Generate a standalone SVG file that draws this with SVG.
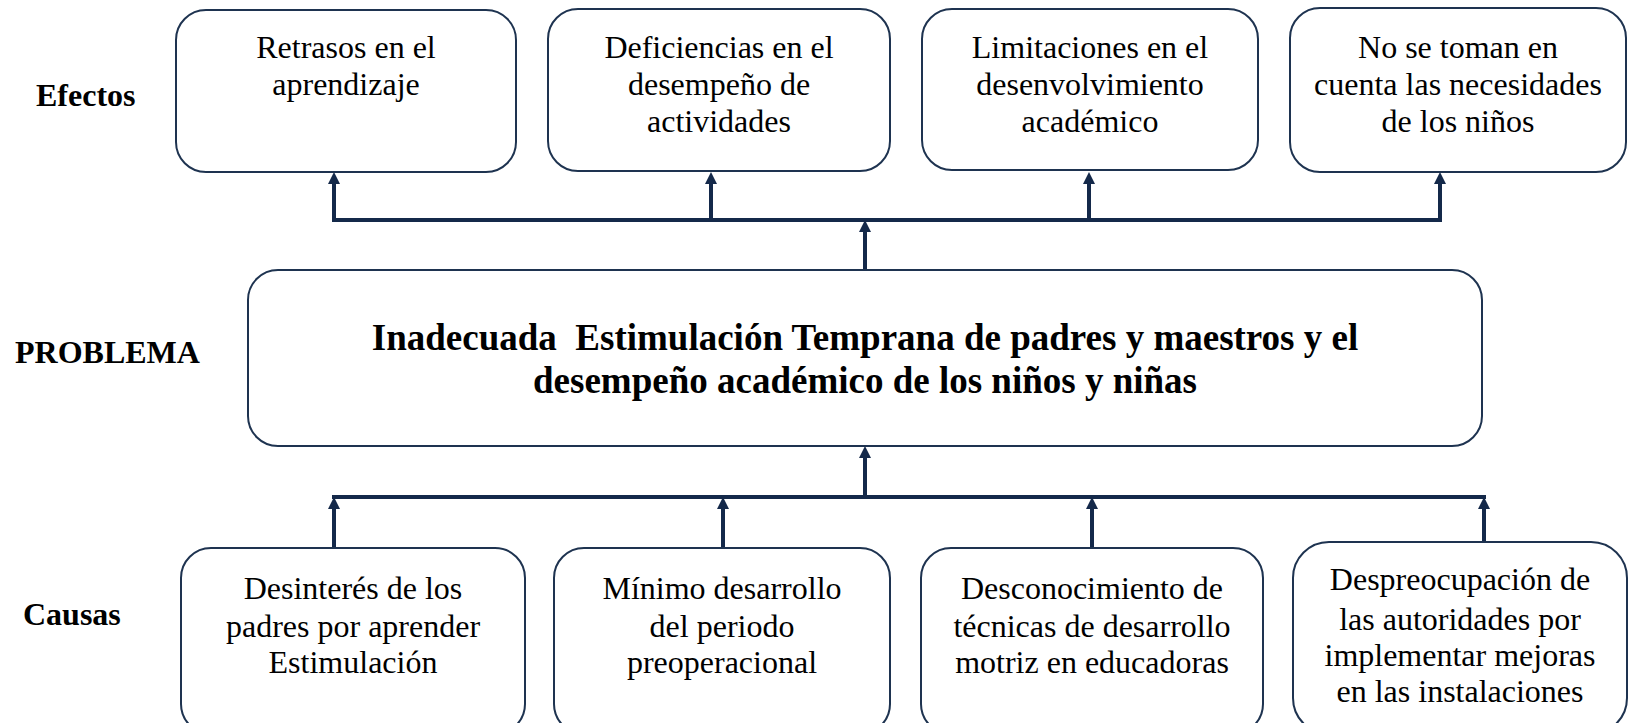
<svg xmlns="http://www.w3.org/2000/svg" width="1628" height="723" viewBox="0 0 1628 723">
<style>
.box{fill:#ffffff;stroke:#1e3350;stroke-width:2}
.t{font-family:"Liberation Serif","Tinos","Times New Roman","Nimbus Roman","DejaVu Serif",serif;font-weight:normal;font-style:normal;font-size:32px;fill:#000;text-anchor:middle}
.lbl{font-family:"Liberation Serif","Tinos","Times New Roman","Nimbus Roman","DejaVu Serif",serif;font-size:32px;font-weight:bold;fill:#000}
.main{font-family:"Liberation Serif","Tinos","Times New Roman","Nimbus Roman","DejaVu Serif",serif;font-size:37px;font-weight:bold;fill:#000;text-anchor:middle}
.c{stroke:#14294a;stroke-width:4;fill:none}
</style>
<defs>
<marker id="ah" viewBox="0 0 12 12" refX="2" refY="6" markerWidth="12" markerHeight="12" orient="auto" markerUnits="userSpaceOnUse">
<path d="M0,0 L12,6 L0,12 z" fill="#14294a"/>
</marker>
</defs>
<rect width="1628" height="723" fill="#ffffff"/>
<g id="labels">
<text class="lbl" x="36" y="106">Efectos</text>
<text class="lbl" x="15" y="363">PROBLEMA</text>
<text class="lbl" x="23" y="625">Causas</text>
</g>
<g id="connectors">
<polyline class="c" points="334,182 334,220 1440,220 1440,182" marker-end="url(#ah)"/>
<line class="c" x1="334" y1="220" x2="334" y2="182" marker-end="url(#ah)"/>
<line class="c" x1="711" y1="220" x2="711" y2="182" marker-end="url(#ah)"/>
<line class="c" x1="1089" y1="220" x2="1089" y2="182" marker-end="url(#ah)"/>
<line class="c" x1="865" y1="270" x2="865" y2="230" marker-end="url(#ah)"/>
<line class="c" x1="332" y1="497" x2="1486" y2="497"/>
<line class="c" x1="334" y1="548" x2="334" y2="507" marker-end="url(#ah)"/>
<line class="c" x1="723" y1="548" x2="723" y2="507" marker-end="url(#ah)"/>
<line class="c" x1="1092" y1="548" x2="1092" y2="507" marker-end="url(#ah)"/>
<line class="c" x1="1484" y1="542" x2="1484" y2="507" marker-end="url(#ah)"/>
<line class="c" x1="865" y1="497" x2="865" y2="456" marker-end="url(#ah)"/>
</g>
<g id="efecto1">
<rect class="box" x="176" y="10" width="340" height="162" rx="30"/>
<text class="t" x="346" y="58">Retrasos en el</text>
<text class="t" x="346" y="95">aprendizaje</text>
</g>
<g id="efecto2">
<rect class="box" x="548" y="9" width="342" height="162" rx="30"/>
<text class="t" x="719" y="58">Deficiencias en el</text>
<text class="t" x="719" y="95">desempeño de</text>
<text class="t" x="719" y="132">actividades</text>
</g>
<g id="efecto3">
<rect class="box" x="922" y="9" width="336" height="161" rx="30"/>
<text class="t" x="1090" y="58">Limitaciones en el</text>
<text class="t" x="1090" y="95">desenvolvimiento</text>
<text class="t" x="1090" y="132">académico</text>
</g>
<g id="efecto4">
<rect class="box" x="1290" y="8" width="336" height="164" rx="30"/>
<text class="t" x="1458" y="58">No se toman en</text>
<text class="t" x="1458" y="95">cuenta las necesidades</text>
<text class="t" x="1458" y="132">de los niños</text>
</g>
<g id="problema">
<rect class="box" x="248" y="270" width="1234" height="176" rx="30"/>
<text class="main" x="865" y="350" xml:space="preserve">Inadecuada  Estimulación Temprana de padres y maestros y el</text>
<text class="main" x="865" y="393">desempeño académico de los niños y niñas</text>
</g>
<g id="causa1">
<rect class="box" x="181" y="548" width="344" height="186" rx="30"/>
<text class="t" x="353" y="599">Desinterés de los</text>
<text class="t" x="353" y="637">padres por aprender</text>
<text class="t" x="353" y="673">Estimulación</text>
</g>
<g id="causa2">
<rect class="box" x="554" y="548" width="336" height="186" rx="30"/>
<text class="t" x="722" y="599">Mínimo desarrollo</text>
<text class="t" x="722" y="637">del periodo</text>
<text class="t" x="722" y="673">preoperacional</text>
</g>
<g id="causa3">
<rect class="box" x="921" y="548" width="342" height="186" rx="30"/>
<text class="t" x="1092" y="599">Desconocimiento de</text>
<text class="t" x="1092" y="637">técnicas de desarrollo</text>
<text class="t" x="1092" y="673">motriz en educadoras</text>
</g>
<g id="causa4">
<rect class="box" x="1293" y="542" width="334" height="192" rx="36"/>
<text class="t" x="1460" y="590">Despreocupación de</text>
<text class="t" x="1460" y="630">las autoridades por</text>
<text class="t" x="1460" y="666">implementar mejoras</text>
<text class="t" x="1460" y="702">en las instalaciones</text>
</g>
</svg>
